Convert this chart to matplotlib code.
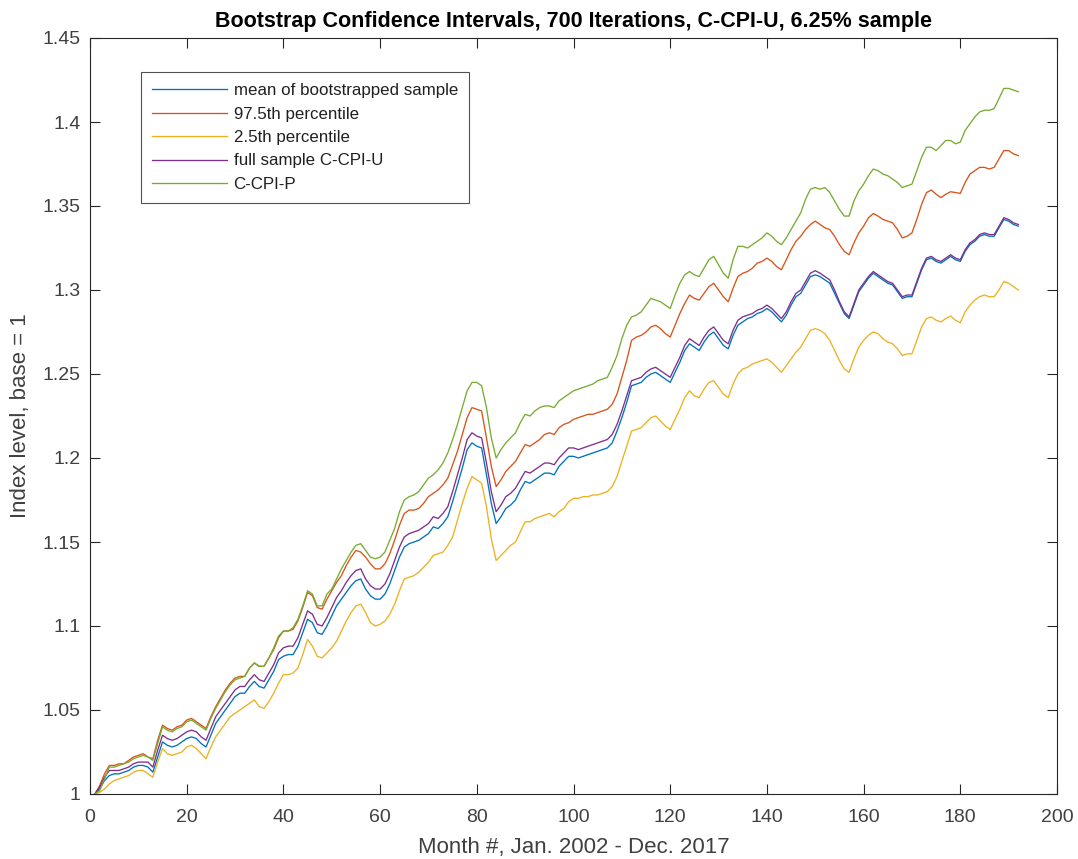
import matplotlib
matplotlib.use("Agg")
import matplotlib.pyplot as plt
from matplotlib.ticker import FixedLocator, FuncFormatter

plt.rcParams['font.family'] = ['Liberation Sans', 'DejaVu Sans']

months = list(range(1, 193))

full_sample = [
1.000,1.004,1.010,1.014,1.014,1.014,1.015,1.016,1.018,1.019,
1.019,1.019,1.016,1.026,1.035,1.033,1.032,1.033,1.035,1.037,
1.038,1.037,1.034,1.032,1.039,1.046,1.050,1.054,1.058,1.062,
1.064,1.064,1.068,1.071,1.068,1.067,1.072,1.077,1.084,1.087,
1.088,1.088,1.093,1.101,1.109,1.107,1.101,1.100,1.105,1.111,
1.117,1.121,1.126,1.130,1.133,1.134,1.128,1.124,1.122,1.122,
1.125,1.131,1.139,1.147,1.153,1.155,1.156,1.157,1.159,1.161,
1.165,1.164,1.167,1.171,1.180,1.190,1.200,1.211,1.215,1.213,
1.212,1.197,1.180,1.168,1.172,1.177,1.179,1.182,1.187,1.192,
1.191,1.193,1.195,1.197,1.197,1.196,1.200,1.203,1.206,1.206,
1.205,1.206,1.207,1.208,1.209,1.210,1.211,1.214,1.220,1.228,
1.237,1.246,1.247,1.248,1.251,1.253,1.254,1.252,1.250,1.248,
1.254,1.260,1.267,1.271,1.269,1.267,1.272,1.276,1.278,1.274,
1.270,1.268,1.276,1.282,1.284,1.285,1.286,1.288,1.289,1.291,
1.289,1.286,1.283,1.287,1.293,1.298,1.300,1.305,1.310,1.3115,
1.310,1.308,1.306,1.300,1.293,1.287,1.284,1.292,1.300,1.304,
1.308,1.311,1.309,1.307,1.305,1.304,1.300,1.296,1.297,1.297,
1.305,1.313,1.319,1.320,1.318,1.317,1.319,1.321,1.319,1.318,
1.324,1.328,1.330,1.333,1.334,1.333,1.333,1.338,1.343,1.342,
1.340,1.339]

boot_mean = [
1.000,1.003,1.008,1.011,1.012,1.012,1.013,1.014,1.016,1.017,
1.017,1.016,1.013,1.022,1.031,1.029,1.028,1.029,1.031,1.033,
1.034,1.033,1.030,1.028,1.035,1.042,1.046,1.050,1.054,1.058,
1.060,1.060,1.064,1.067,1.064,1.063,1.068,1.073,1.080,1.082,
1.083,1.083,1.088,1.096,1.104,1.102,1.096,1.095,1.100,1.106,
1.112,1.116,1.120,1.124,1.127,1.128,1.122,1.118,1.116,1.116,
1.119,1.125,1.133,1.141,1.147,1.149,1.150,1.151,1.153,1.155,
1.159,1.158,1.161,1.165,1.174,1.184,1.194,1.205,1.209,1.207,
1.206,1.190,1.173,1.161,1.165,1.170,1.172,1.175,1.181,1.186,
1.185,1.187,1.189,1.191,1.191,1.190,1.195,1.198,1.201,1.201,
1.200,1.201,1.202,1.203,1.204,1.205,1.206,1.209,1.216,1.224,
1.233,1.243,1.244,1.245,1.248,1.250,1.251,1.249,1.247,1.245,
1.251,1.257,1.264,1.268,1.266,1.264,1.269,1.273,1.275,1.271,
1.267,1.265,1.273,1.279,1.281,1.283,1.284,1.286,1.287,1.289,
1.287,1.284,1.281,1.285,1.291,1.296,1.298,1.303,1.308,1.309,
1.308,1.306,1.304,1.298,1.292,1.286,1.283,1.291,1.299,1.303,
1.307,1.310,1.308,1.306,1.304,1.303,1.299,1.295,1.296,1.296,
1.304,1.312,1.318,1.319,1.317,1.316,1.318,1.320,1.318,1.317,
1.323,1.327,1.329,1.332,1.333,1.332,1.332,1.337,1.342,1.341,
1.339,1.338]

pct_975 = [
1.000,1.005,1.012,1.017,1.017,1.018,1.018,1.020,1.022,1.023,
1.024,1.022,1.021,1.032,1.041,1.039,1.038,1.040,1.041,1.044,
1.045,1.043,1.041,1.039,1.046,1.052,1.057,1.062,1.066,1.069,
1.070,1.070,1.075,1.078,1.076,1.076,1.081,1.086,1.093,1.097,
1.097,1.098,1.103,1.111,1.120,1.118,1.111,1.110,1.116,1.121,
1.126,1.130,1.136,1.141,1.145,1.144,1.141,1.137,1.134,1.134,
1.137,1.143,1.151,1.160,1.167,1.169,1.169,1.170,1.173,1.177,
1.179,1.181,1.184,1.188,1.196,1.204,1.214,1.224,1.230,1.229,
1.228,1.212,1.195,1.183,1.187,1.192,1.195,1.198,1.203,1.208,
1.207,1.209,1.211,1.214,1.215,1.214,1.218,1.220,1.221,1.223,
1.224,1.225,1.226,1.226,1.227,1.228,1.229,1.232,1.238,1.248,
1.258,1.270,1.272,1.273,1.275,1.278,1.279,1.277,1.274,1.272,
1.279,1.286,1.292,1.297,1.295,1.294,1.298,1.302,1.304,1.300,
1.296,1.293,1.301,1.308,1.310,1.311,1.313,1.316,1.317,1.319,
1.317,1.314,1.312,1.318,1.324,1.329,1.332,1.336,1.339,1.341,
1.339,1.337,1.336,1.332,1.327,1.323,1.321,1.328,1.334,1.338,
1.343,1.3455,1.344,1.342,1.341,1.340,1.336,1.331,1.332,1.334,
1.342,1.351,1.358,1.3595,1.357,1.355,1.357,1.3585,1.358,1.3575,
1.364,1.369,1.371,1.373,1.373,1.372,1.373,1.378,1.383,1.383,
1.381,1.380]

pct_025 = [
1.000,1.001,1.003,1.006,1.008,1.009,1.010,1.011,1.013,1.014,
1.014,1.012,1.010,1.019,1.027,1.024,1.023,1.024,1.025,1.028,
1.029,1.027,1.024,1.021,1.028,1.034,1.038,1.042,1.046,1.048,
1.050,1.052,1.054,1.056,1.052,1.051,1.055,1.060,1.066,1.071,
1.071,1.072,1.075,1.083,1.092,1.088,1.082,1.081,1.084,1.087,
1.091,1.097,1.103,1.108,1.112,1.113,1.108,1.102,1.100,1.101,
1.103,1.107,1.113,1.121,1.128,1.129,1.130,1.132,1.135,1.138,
1.142,1.143,1.144,1.148,1.153,1.163,1.173,1.182,1.189,1.187,
1.185,1.171,1.152,1.139,1.142,1.145,1.148,1.150,1.156,1.162,
1.162,1.164,1.165,1.166,1.167,1.165,1.168,1.170,1.174,1.176,
1.176,1.177,1.177,1.178,1.178,1.179,1.180,1.183,1.189,1.198,
1.207,1.216,1.217,1.218,1.221,1.224,1.225,1.222,1.219,1.217,
1.223,1.229,1.236,1.240,1.237,1.236,1.241,1.245,1.246,1.242,
1.238,1.236,1.244,1.250,1.253,1.254,1.256,1.257,1.258,1.259,
1.257,1.254,1.251,1.255,1.259,1.263,1.266,1.271,1.276,1.277,
1.276,1.274,1.270,1.264,1.258,1.253,1.251,1.259,1.266,1.270,
1.273,1.275,1.274,1.271,1.269,1.268,1.265,1.261,1.262,1.262,
1.270,1.278,1.283,1.284,1.282,1.281,1.283,1.2845,1.282,1.2805,
1.287,1.291,1.294,1.296,1.297,1.296,1.296,1.300,1.305,1.304,
1.302,1.300]

c_cpi_p = [
1.000,1.002,1.009,1.016,1.016,1.017,1.018,1.019,1.021,1.022,
1.023,1.022,1.020,1.030,1.040,1.038,1.037,1.039,1.040,1.043,
1.044,1.042,1.040,1.038,1.045,1.051,1.056,1.061,1.065,1.068,
1.069,1.070,1.075,1.078,1.076,1.076,1.081,1.087,1.094,1.097,
1.097,1.099,1.104,1.112,1.121,1.119,1.112,1.112,1.119,1.122,
1.128,1.134,1.139,1.144,1.148,1.149,1.145,1.141,1.140,1.141,
1.144,1.151,1.158,1.168,1.175,1.177,1.178,1.180,1.184,1.188,
1.190,1.193,1.197,1.203,1.211,1.220,1.230,1.240,1.245,1.245,
1.243,1.230,1.212,1.200,1.205,1.209,1.212,1.215,1.221,1.226,
1.225,1.228,1.230,1.231,1.231,1.230,1.234,1.236,1.238,1.240,
1.241,1.242,1.243,1.244,1.246,1.247,1.248,1.254,1.261,1.271,
1.279,1.284,1.285,1.287,1.291,1.295,1.294,1.293,1.291,1.289,
1.297,1.304,1.309,1.311,1.309,1.308,1.313,1.318,1.320,1.315,
1.310,1.307,1.318,1.326,1.326,1.325,1.327,1.329,1.331,1.334,
1.332,1.329,1.327,1.331,1.336,1.341,1.346,1.354,1.360,1.361,
1.360,1.361,1.358,1.353,1.348,1.344,1.344,1.353,1.359,1.363,
1.368,1.372,1.371,1.369,1.368,1.366,1.364,1.361,1.362,1.363,
1.371,1.379,1.385,1.385,1.383,1.386,1.389,1.389,1.387,1.388,
1.395,1.399,1.403,1.406,1.407,1.407,1.408,1.414,1.420,1.420,
1.419,1.418]

series_labels = ['mean of bootstrapped sample', '97.5th percentile',
                 '2.5th percentile', 'full sample C-CPI-U', 'C-CPI-P']
series_colors = ['#0072BD', '#D95319', '#EDB120', '#7E2F8E', '#77AC30']
x_ticks = list(range(0, 201, 20))
y_ticks = [1.0, 1.05, 1.1, 1.15, 1.2, 1.25, 1.3, 1.35, 1.4, 1.45]

title_text = 'Bootstrap Confidence Intervals, 700 Iterations, C-CPI-U, 6.25% sample'
x_label = 'Month #, Jan. 2002 - Dec. 2017'
y_label = 'Index level, base = 1'

fig = plt.figure(figsize=(10.78, 8.59), dpi=100)
ax = fig.add_axes([90/1078, 65/859, 967/1078, 756/859])

all_series = [boot_mean, pct_975, pct_025, full_sample, c_cpi_p]
for vals, lab, col in zip(all_series, series_labels, series_colors):
    ax.plot(months, vals, color=col, lw=0.95, label=lab)

axis_col = '#262626'
text_col = '#404040'
ax.set_xlim(0, 200)
ax.set_ylim(1.0, 1.45)
ax.xaxis.set_major_locator(FixedLocator(x_ticks))
ax.yaxis.set_major_locator(FixedLocator(y_ticks))
ax.yaxis.set_major_formatter(FuncFormatter(lambda v, p: ('%g' % round(v, 2))))
ax.tick_params(direction='in', length=7, width=0.8, top=True, right=True,
               labelsize=14, color=axis_col, labelcolor=text_col, pad=7)
ax.tick_params(axis='x', pad=11)
for s in ax.spines.values():
    s.set_color(axis_col)
    s.set_linewidth(0.8)

ax.set_title(title_text, fontsize=15.5, fontweight='bold', color='black', pad=8)
ax.set_xlabel(x_label, fontsize=16, color=text_col, labelpad=8)
ax.set_ylabel(y_label, fontsize=16, color=text_col, labelpad=8)

leg = ax.legend(loc='upper left', bbox_to_anchor=(0.053, 0.955), fontsize=12.2,
                frameon=True, fancybox=False, borderpad=0.65, labelspacing=0.5,
                handlelength=4.4, handletextpad=0.4, borderaxespad=0)
leg.get_frame().set_edgecolor(axis_col)
leg.get_frame().set_linewidth(0.8)
for t in leg.get_texts():
    t.set_color('#202020')

fig.savefig('out.png', dpi=100)
